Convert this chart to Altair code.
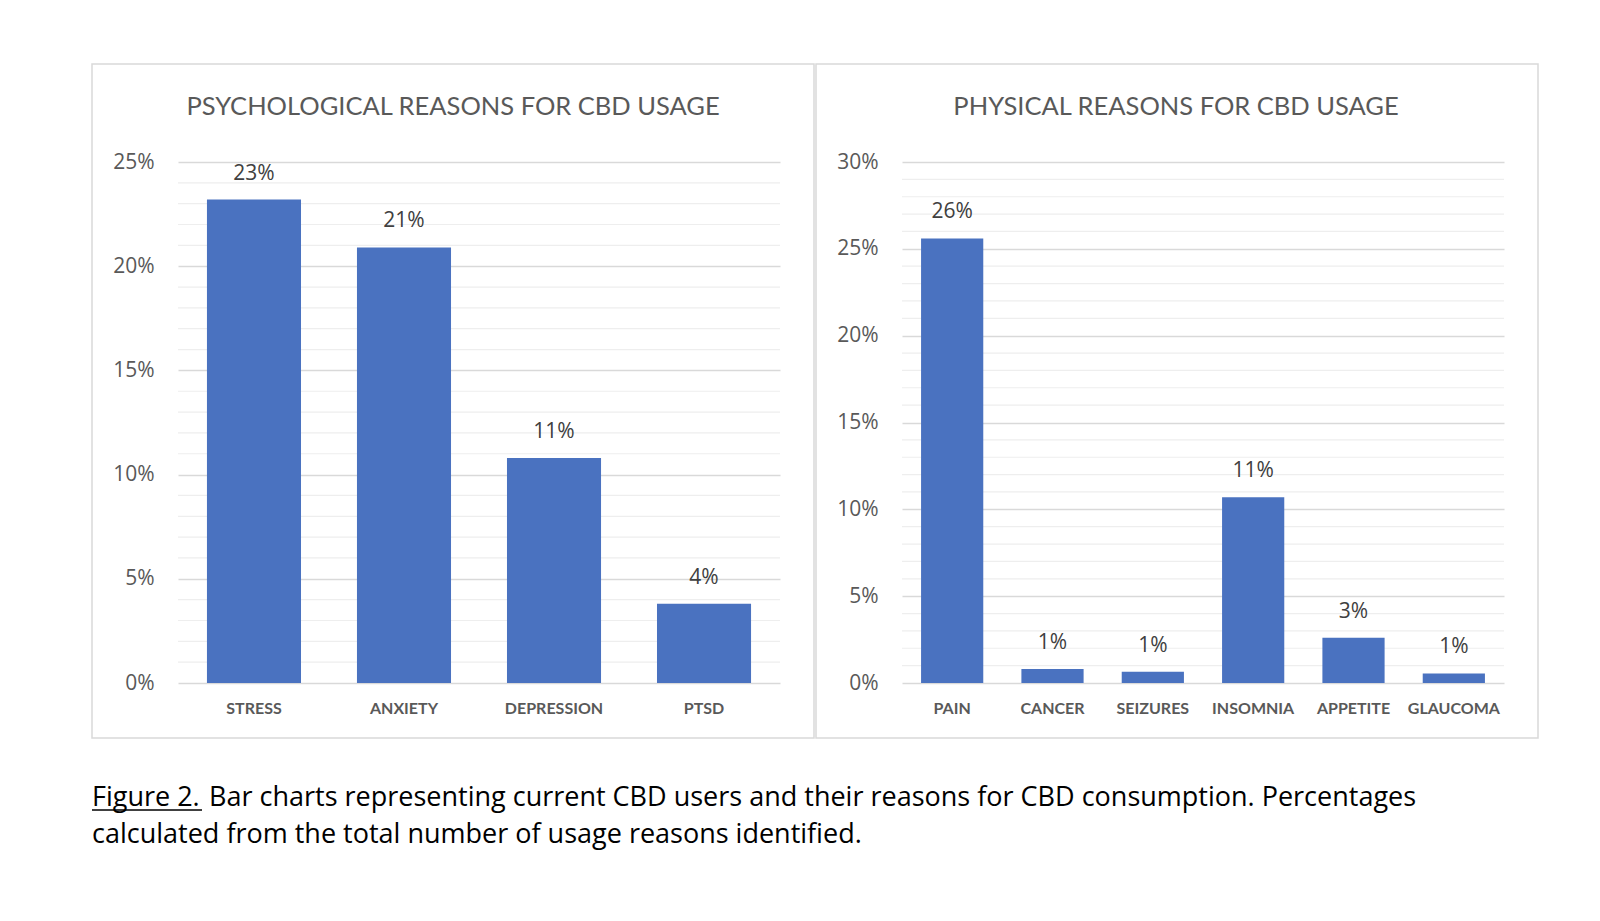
import altair as alt
import pandas as pd

psych_cats = ["STRESS", "ANXIETY", "DEPRESSION", "PTSD"]
psych_vals = [0.232, 0.209, 0.108, 0.038]
psych_labels = ["23%", "21%", "11%", "4%"]

phys_cats = ["PAIN", "CANCER", "SEIZURES", "INSOMNIA", "APPETITE", "GLAUCOMA"]
phys_vals = [0.256, 0.008, 0.0065, 0.107, 0.026, 0.0055]
phys_labels = ["26%", "1%", "1%", "11%", "3%", "1%"]

psych_ticks = [0, 0.05, 0.10, 0.15, 0.20, 0.25]
phys_ticks = [0, 0.05, 0.10, 0.15, 0.20, 0.25, 0.30]

titles = ["PSYCHOLOGICAL REASONS FOR CBD USAGE", "PHYSICAL REASONS FOR CBD USAGE"]
caption_lead = "Figure 2."
caption_rest = "Bar charts representing current CBD users and their reasons for CBD consumption. Percentages"
caption_line2 = "calculated from the total number of usage reasons identified."

FONT = "Lato"
NUMFONT = "Open Sans"
BAR = "#4A72C0"
W, H = 602, 521


def panel(cats, vals, labels, ticks, ymax, title, pad_outer, pad_inner, left_off, right_off, title_x):
    df = pd.DataFrame({"cat": cats, "val": vals, "lab": labels})
    minor = pd.DataFrame({"val": [i / 100 for i in range(1, int(round(ymax * 100))) if i % 5 != 0]})
    yscale = alt.Scale(domain=[0, ymax], nice=False)
    yaxis = alt.Axis(title=None, values=ticks, format=".0%", domain=False, ticks=False,
                     labelPadding=24, labelFont=NUMFONT, labelFontSize=21,
                     labelColor="#595959", gridColor="#d9d9d9", gridWidth=1.3)
    xenc = alt.X("cat:N", sort=cats,
                 scale=alt.Scale(paddingInner=pad_inner, paddingOuter=pad_outer),
                 axis=alt.Axis(title=None, labelAngle=0, domain=False, ticks=False,
                               labelPadding=17, labelFont=FONT, labelFontSize=16,
                               labelFontWeight="bold", labelColor="#595959"))
    grid = alt.Chart(minor).mark_rule(color="#eeeeee", strokeWidth=1.2).encode(
        y=alt.Y("val:Q", scale=yscale, axis=yaxis))
    bars = alt.Chart(df).mark_bar(color=BAR).encode(
        x=xenc, y=alt.Y("val:Q", scale=yscale, axis=yaxis))
    text = alt.Chart(df).mark_text(font=NUMFONT, fontSize=21, color="#404040",
                                   baseline="alphabetic", dy=-20).encode(
        x=alt.X("cat:N", sort=cats), y=alt.Y("val:Q", scale=yscale, axis=yaxis), text="lab:N")
    tdf = pd.DataFrame({"t": [title]})
    border = alt.Chart(tdf).mark_rect(filled=False, color="#d9d9d9", strokeWidth=1.5).encode(
        x=alt.value(left_off), x2=alt.value(right_off), y=alt.value(-98), y2=alt.value(576))
    ttl = alt.Chart(tdf).mark_text(font=FONT, fontSize=25.5, color="#595959",
                                   align="center", baseline="alphabetic").encode(
        x=alt.value(title_x), y=alt.value(-47), text="t:N")
    return alt.layer(grid, bars, text, border, ttl).properties(width=W, height=H)


left = panel(psych_cats, psych_vals, psych_labels, psych_ticks, 0.25, titles[0],
             0.193, 0.373, -86, 636, 275)
right = panel(phys_cats, phys_vals, phys_labels, phys_ticks, 0.30, titles[1],
              0.19, 0.38, -86, 636, 274)

cap_df = pd.DataFrame({"a": [caption_lead], "b": [caption_rest], "c": [caption_line2]})
cbase = alt.Chart(cap_df)
ctext = dict(font=NUMFONT, fontSize=27, color="#000000", align="left", baseline="alphabetic")
c1 = cbase.mark_text(**ctext).encode(x=alt.value(-86), y=alt.value(47), text="a:N")
c2 = cbase.mark_text(**ctext).encode(x=alt.value(31), y=alt.value(47), text="b:N")
c3 = cbase.mark_text(**ctext).encode(x=alt.value(-86), y=alt.value(84), text="c:N")
ul = cbase.mark_rule(color="#000000", strokeWidth=1.5).encode(
    x=alt.value(-86), x2=alt.value(24), y=alt.value(51))
caption = alt.layer(c1, c2, c3, ul).properties(width=1300, height=90)

chart = alt.vconcat(
    alt.hconcat(left, right, spacing=0),
    caption,
    spacing=20,
).properties(
    padding={"left": 83, "top": 55, "right": 5, "bottom": 5},
    background="white",
).configure_view(stroke=None)

chart.save("out.html", embed_options={"renderer": "svg", "actions": False})
